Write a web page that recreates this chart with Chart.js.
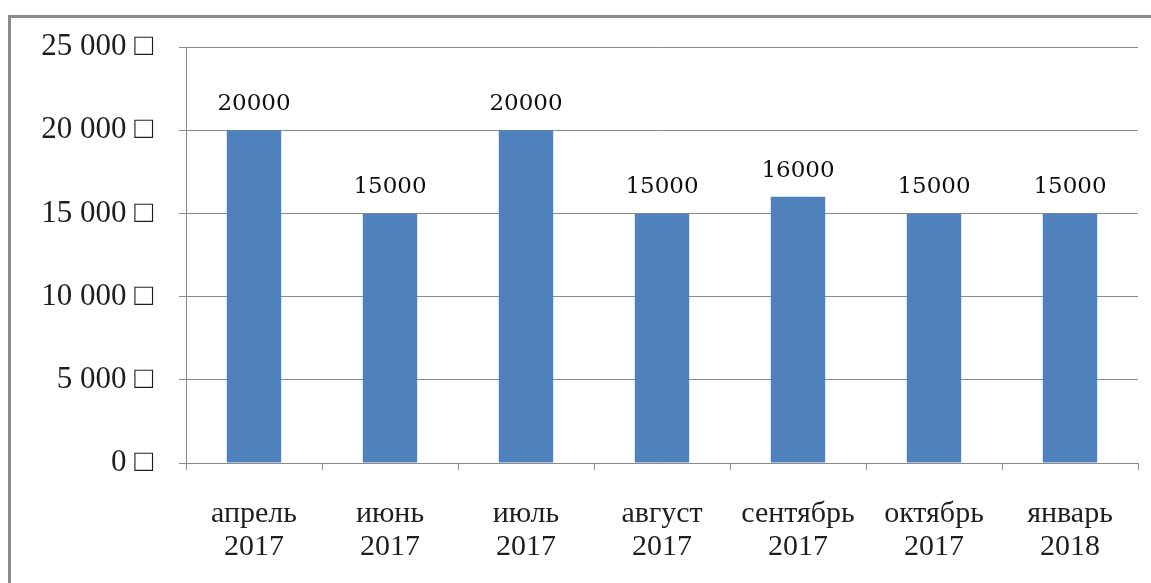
<!DOCTYPE html>
<html>
<head>
<meta charset="utf-8">
<script src="https://cdn.jsdelivr.net/npm/chart.js@4"></script>
<style>
  html, body { margin: 0; padding: 0; background: #fff; }
  #wrap { width: 1151px; height: 583px; position: relative; }
</style>
</head>
<body>
<div id="wrap"><canvas id="chart"></canvas></div>
<script>
// Data
const months = [
  ['апрель', '2017'],
  ['июнь', '2017'],
  ['июль', '2017'],
  ['август', '2017'],
  ['сентябрь', '2017'],
  ['октябрь', '2017'],
  ['январь', '2018'],
];
const amounts = [20000, 15000, 20000, 15000, 16000, 15000, 15000];
const currencySign = '□';

const COLORS = {
  bar: '#4F81BD',
  grid: '#8a8a8a',
  text: '#1e1e1e',
  frame: '#8c8c8c',
};
const SERIF = '"Liberation Serif", "Times New Roman", serif';

function formatTick(v) {
  const s = String(v).replace(/\B(?=(\d{3})+(?!\d))/g, ' ');
  return `${s} ${currencySign}`;
}

// outer frame + value labels above bars
const extras = {
  id: 'extras',
  beforeDraw(chart) {
    const ctx = chart.ctx;
    ctx.save();
    ctx.strokeStyle = COLORS.frame;
    ctx.lineWidth = 3;
    ctx.strokeRect(9.5, 16.5, 1300, 800);
    ctx.restore();
  },
  afterDatasetsDraw(chart) {
    const ctx = chart.ctx;
    const meta = chart.getDatasetMeta(0);
    ctx.save();
    ctx.fillStyle = '#111';
    ctx.font = '23px "DejaVu Serif", serif';
    ctx.textAlign = 'center';
    ctx.textBaseline = 'middle';
    meta.data.forEach((bar, i) => {
      ctx.fillText(String(amounts[i]), bar.x, bar.y - 26);
    });
    ctx.restore();
  },
};

new Chart(document.getElementById('chart'), {
  type: 'bar',
  data: {
    labels: months,
    datasets: [{
      data: amounts,
      backgroundColor: COLORS.bar,
      borderWidth: 0,
      barPercentage: 0.4,
      categoryPercentage: 1.0,
    }],
  },
  options: {
    responsive: true,
    maintainAspectRatio: false,
    animation: false,
    layout: { padding: { top: 47, right: 13, bottom: 0, left: 0 } },
    plugins: {
      legend: { display: false },
      tooltip: { enabled: false },
    },
    scales: {
      x: {
        afterFit: s => { s.height = 120; },
        grid: {
          drawOnChartArea: false,
          drawTicks: true,
          tickLength: 7,
          color: COLORS.grid,
        },
        border: { color: COLORS.grid, width: 1 },
        ticks: {
          color: COLORS.text,
          padding: 28,
          maxRotation: 0,
          autoSkip: false,
          font: { family: SERIF, size: 30, lineHeight: 1.1 },
        },
      },
      y: {
        min: 0,
        max: 25000,
        afterFit: s => { s.width = 186; },
        grid: {
          color: COLORS.grid,
          tickLength: 7,
        },
        border: { color: COLORS.grid, width: 1 },
        ticks: {
          stepSize: 5000,
          color: COLORS.text,
          padding: 26,
          font: { family: SERIF, size: 31 },
          callback: v => formatTick(v),
        },
      },
    },
  },
  plugins: [extras],
});
</script>
</body>
</html>
